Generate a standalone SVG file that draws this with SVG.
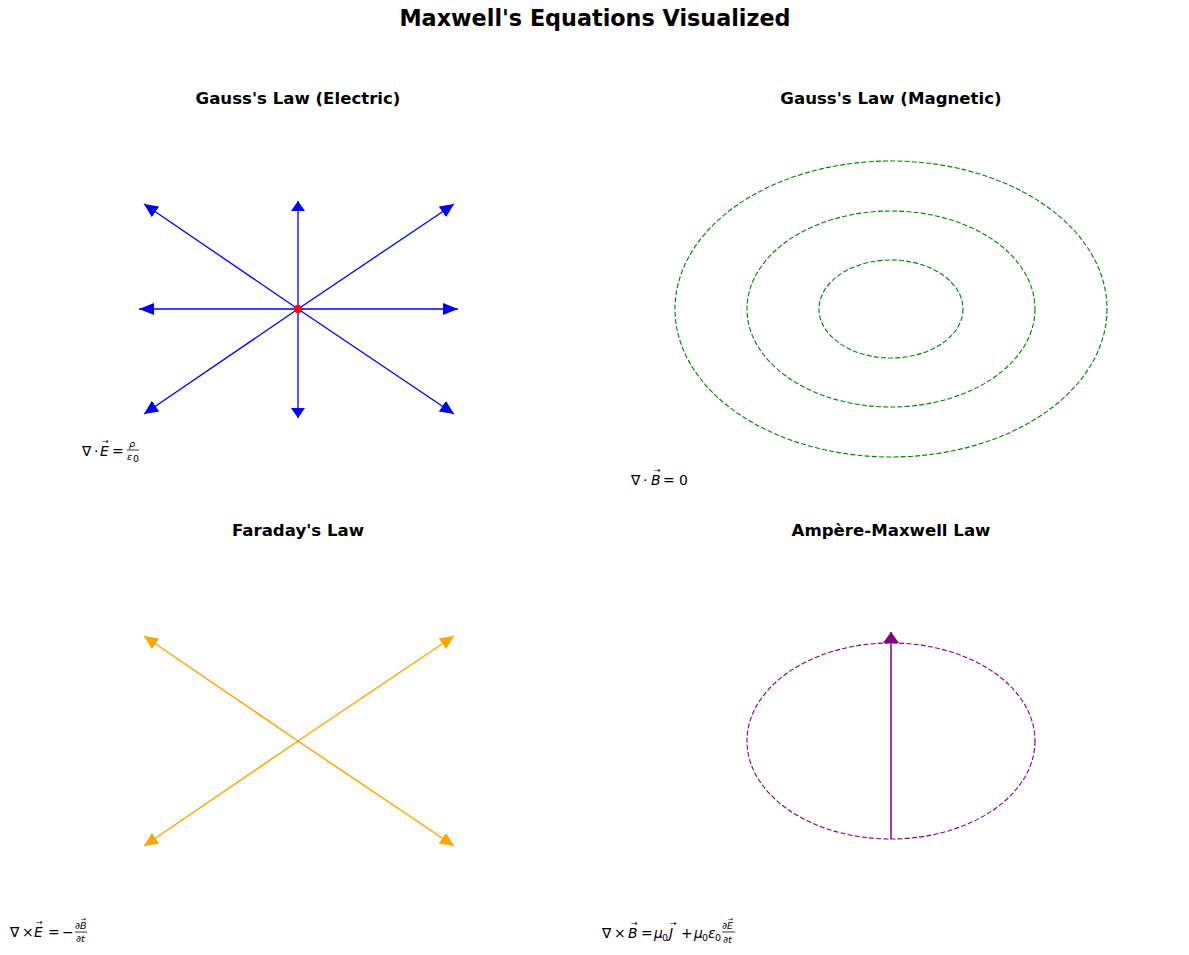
<svg xmlns="http://www.w3.org/2000/svg" width="1189" height="955" viewBox="0 0 1189 955">
<style>
.title{font-family:"DejaVu Sans",sans-serif;font-weight:bold;font-size:22.3px;fill:#000;text-anchor:middle}
.sub{font-family:"DejaVu Sans",sans-serif;font-weight:bold;font-size:16.6px;fill:#000;text-anchor:middle}
.eq{font-family:"DejaVu Sans",sans-serif;font-size:13.9px;fill:#000}
.it{font-style:italic}
.sm{font-size:9.5px}
.sub0{font-size:9.5px;font-style:normal}
.vec{font-family:"DejaVu Sans",sans-serif;font-size:8px;fill:#000}
.vecs{font-family:"DejaVu Sans",sans-serif;font-size:6px;fill:#000}
.frac{stroke:#000;stroke-width:0.8}
.blue{stroke:#0000ff;stroke-width:1.3;fill:none}
.orange{stroke:#ffa500;stroke-width:1.5;fill:none;marker-end:url(#hod)}
.green{stroke:#008000;stroke-width:1.1;fill:none;stroke-dasharray:5,2.2}
.purple{stroke:#800080;stroke-width:1.1;fill:none;stroke-dasharray:5,2.2}
</style>
<defs>
<marker id="hbh" markerUnits="userSpaceOnUse" markerWidth="15" markerHeight="12" refX="15" refY="6" orient="auto" viewBox="0 0 15 12"><path d="M0,0 L15,6 L0,12 z" fill="#0000ff"/></marker>
<marker id="hbv" markerUnits="userSpaceOnUse" markerWidth="10" markerHeight="14" refX="10" refY="7" orient="auto" viewBox="0 0 10 14"><path d="M0,0 L10,7 L0,14 z" fill="#0000ff"/></marker>
<marker id="hbd" markerUnits="userSpaceOnUse" markerWidth="14" markerHeight="13" refX="14" refY="6.5" orient="auto" viewBox="0 0 14 13"><path d="M0,0 L14,6.5 L0,13 z" fill="#0000ff"/></marker>
<marker id="hod" markerUnits="userSpaceOnUse" markerWidth="14" markerHeight="13" refX="14" refY="6.5" orient="auto" viewBox="0 0 14 13"><path d="M0,0 L14,6.5 L0,13 z" fill="#ffa500"/></marker>
<marker id="hp" markerUnits="userSpaceOnUse" markerWidth="11" markerHeight="16" refX="11" refY="8" orient="auto" viewBox="0 0 11 16"><path d="M0,0 L11,8 L0,16 z" fill="#800080"/></marker>
</defs>
<rect width="1189" height="955" fill="#fff"/>
<text class="title" x="595" y="26">Maxwell's Equations Visualized</text>

<g id="panel-gauss-electric">
<text class="sub" x="298" y="104">Gauss's Law (Electric)</text>
<g id="e-field">
<line class="blue" marker-end="url(#hbv)" x1="298" y1="309" x2="298" y2="201"/>
<line class="blue" marker-end="url(#hbv)" x1="298" y1="309" x2="298" y2="418"/>
<line class="blue" marker-end="url(#hbh)" x1="298" y1="309" x2="139" y2="309"/>
<line class="blue" marker-end="url(#hbh)" x1="298" y1="309" x2="458" y2="309"/>
<line class="blue" marker-end="url(#hbd)" x1="298" y1="309" x2="144" y2="204"/>
<line class="blue" marker-end="url(#hbd)" x1="298" y1="309" x2="454" y2="204"/>
<line class="blue" marker-end="url(#hbd)" x1="298" y1="309" x2="144" y2="414"/>
<line class="blue" marker-end="url(#hbd)" x1="298" y1="309" x2="454" y2="414"/>
</g>
<circle id="charge" cx="298" cy="309" r="4.2" fill="#ff0000"/>
<g id="eq1">
<text class="eq" x="82" y="456">∇</text>
<text class="eq" x="94" y="456">·</text>
<text class="eq it" x="100" y="456">E</text>
<text class="vec" x="102" y="444">→</text>
<text class="eq" x="112" y="456">=</text>
<text class="eq it sm" x="129" y="447">ρ</text>
<line class="frac" x1="127" y1="450" x2="139" y2="450"/>
<text class="eq it sm" x="127" y="460">ε</text>
<text class="eq sub0" font-size="7px" x="133" y="462">0</text>
</g>
</g>

<g id="panel-gauss-magnetic">
<text class="sub" x="891" y="104">Gauss's Law (Magnetic)</text>
<ellipse class="green" cx="891" cy="309" rx="72" ry="49"/>
<ellipse class="green" cx="891" cy="309" rx="144" ry="98"/>
<ellipse class="green" cx="891" cy="309" rx="216" ry="148"/>
<g id="eq2">
<text class="eq" x="631" y="485">∇</text>
<text class="eq" x="643" y="485">·</text>
<text class="eq it" x="651" y="485">B</text>
<text class="vec" x="654" y="473">→</text>
<text class="eq" x="663" y="485">= 0</text>
</g>
</g>

<g id="panel-faraday">
<text class="sub" x="298" y="536">Faraday's Law</text>
<g id="curl-e">
<line class="orange" x1="298" y1="741" x2="144" y2="636"/>
<line class="orange" x1="298" y1="741" x2="454" y2="636"/>
<line class="orange" x1="298" y1="741" x2="144" y2="846"/>
<line class="orange" x1="298" y1="741" x2="454" y2="846"/>
</g>
<g id="eq3">
<text class="eq" x="10" y="937">∇</text>
<text class="eq" x="22" y="937">×</text>
<text class="eq it" x="34" y="937">E</text>
<text class="vec" x="36" y="925">→</text>
<text class="eq" x="48" y="937">=</text>
<text class="eq" x="62" y="937">−</text>
<text class="eq sm" x="75" y="929">∂<tspan class="it">B</tspan></text>
<text class="vecs" x="81" y="921">→</text>
<line class="frac" x1="75" y1="932" x2="87" y2="932"/>
<text class="eq sm" x="76" y="942">∂<tspan class="it">t</tspan></text>
</g>
</g>

<g id="panel-ampere">
<text class="sub" x="891" y="536">Ampère-Maxwell Law</text>
<ellipse class="purple" cx="891" cy="741" rx="144" ry="98"/>
<line x1="891" y1="839" x2="891" y2="632" stroke="#800080" stroke-width="1.5" marker-end="url(#hp)"/>
<g id="eq4">
<text class="eq" x="602" y="938">∇</text>
<text class="eq" x="614" y="938">×</text>
<text class="eq it" x="628" y="938">B</text>
<text class="vec" x="631" y="926">→</text>
<text class="eq" x="641" y="938">=</text>
<text class="eq it" x="654" y="938">μ</text>
<text class="eq sub0" x="662" y="941">0</text>
<text class="eq it" x="669" y="938">J</text>
<text class="vec" x="670" y="926">→</text>
<text class="eq" x="681" y="938">+</text>
<text class="eq it" x="694" y="938">μ</text>
<text class="eq sub0" x="702" y="941">0</text>
<text class="eq it" x="708" y="938">ε</text>
<text class="eq sub0" x="715" y="941">0</text>
<text class="eq sm" x="722" y="929">∂<tspan class="it">E</tspan></text>
<text class="vecs" x="728" y="921">→</text>
<line class="frac" x1="722" y1="932" x2="735" y2="932"/>
<text class="eq sm" x="723" y="943">∂<tspan class="it">t</tspan></text>
</g>
</g>
</svg>
